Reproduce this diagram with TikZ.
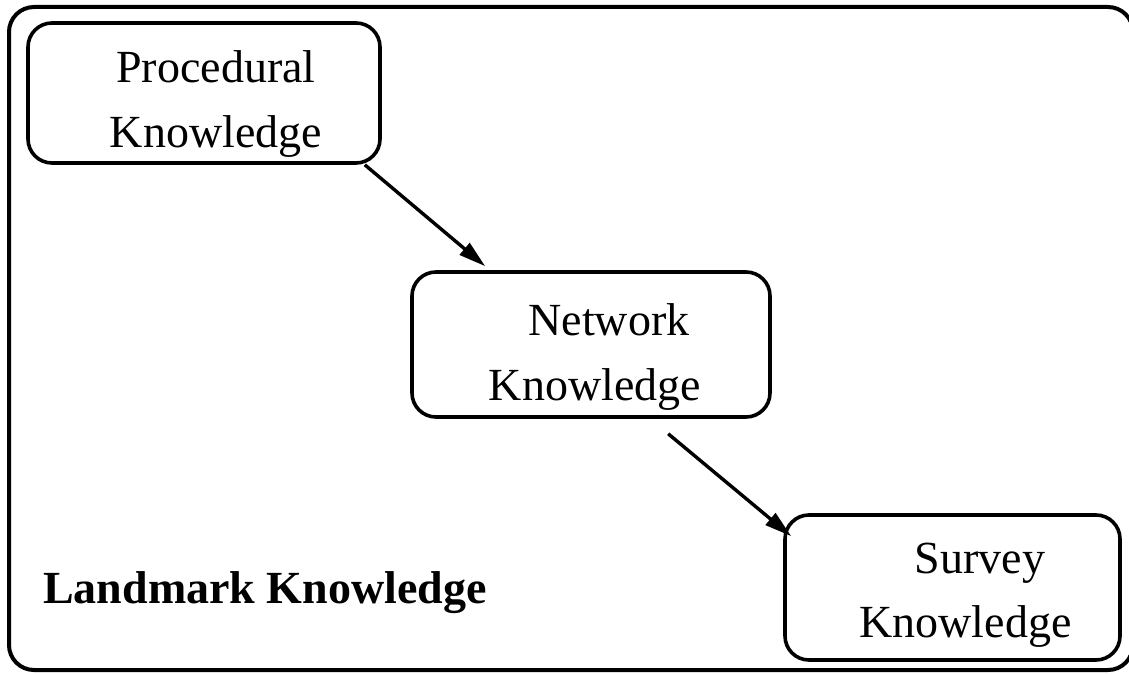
\documentclass[tikz,border=0pt]{standalone}
\usepackage{fontspec}
\setmainfont{Liberation Serif}
\usetikzlibrary{arrows.meta,calc}

\begin{document}
\begin{tikzpicture}[
    x=1pt, y=-1pt,
    >={Triangle[length=27pt,width=15pt]},
    frame/.style={draw, line width=4pt, rounded corners=25pt},
    stageBox/.style={
        rectangle, draw, line width=3.6pt,
        rounded corners=24pt, inner sep=0pt
    },
    stageText/.style={
        font=\fontsize{46}{64.5}\selectfont,
        align=center, inner sep=0pt
    },
    areaText/.style={
        font=\fontsize{46}{55}\selectfont\bfseries,
        anchor=base west, inner sep=0pt
    },
    flow/.style={->, line width=3.4pt}
]
\useasboundingbox (0,0) rectangle (1129,674);

% Outer region: landmark knowledge
\node[areaText] (Landmark) at (43,603) {Landmark Knowledge};
\draw[frame] (9,7) rectangle (1133,670);

\node[stageBox, minimum width=352pt, minimum height=140pt] (ProcBox) at (204,93) {};
\node[stageText] (ProcText) at (216,104) {Procedural\\Knowledge};

\node[stageBox, minimum width=358pt, minimum height=145pt] (NetBox) at (591,344.5) {};
\node[stageText] (NetText) at (595,357) {\hspace*{28pt}Network\\Knowledge};

\node[stageBox, minimum width=335pt, minimum height=145pt] (SurvBox) at (952.5,587.5) {};
\node[stageText] (SurvText) at (965.5,595) {\hspace*{29pt}Survey\\Knowledge};

\draw[flow] ($(ProcBox.south east)+(-17,0)$) -- ($(NetBox.north west)+(75,-4)$);
\draw[flow] ($(NetBox.south west)+(258,15)$) -- ($(SurvBox.north west)+(8,23)$);

\end{tikzpicture}
\end{document}
